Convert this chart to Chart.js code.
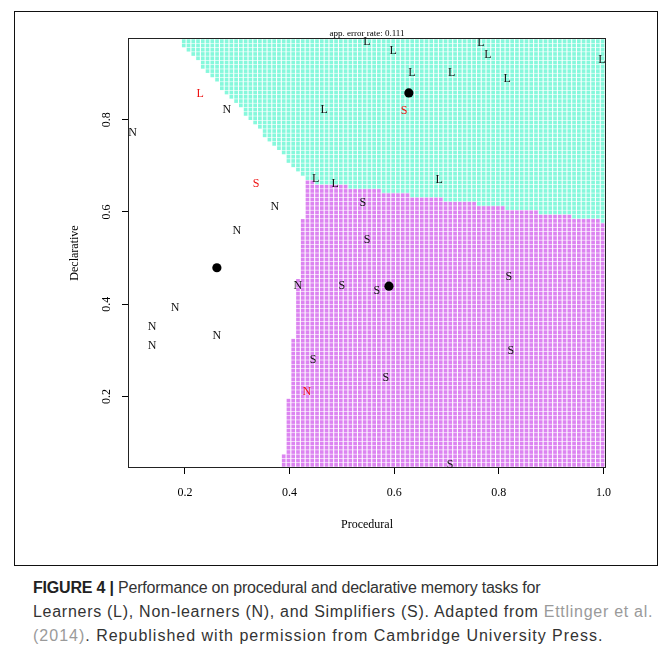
<!DOCTYPE html>
<html><head><meta charset="utf-8">
<script src="https://cdn.jsdelivr.net/npm/chart.js@4.4.1/dist/chart.umd.min.js"></script>
<style>
html,body{margin:0;padding:0;background:#fff;width:671px;height:647px;overflow:hidden;}
#wrap{position:absolute;left:0;top:0;width:671px;height:575px;}
#cap{position:absolute;left:33px;top:576px;font-family:"Liberation Sans",Arial,sans-serif;font-size:16px;line-height:24px;color:#333;white-space:nowrap;}
#cap b{color:#222;}
#cap .ref{color:#9a9a9a;}
#cap .l1{letter-spacing:-0.2px;}
#cap .l2{letter-spacing:0.72px;}
#cap .l3{letter-spacing:1.0px;}
</style></head><body>
<div id="wrap"><canvas id="c"></canvas></div>
<div id="cap"><span class="l1"><b>FIGURE 4 |</b> Performance on procedural and declarative memory tasks for</span><br><span class="l2">Learners (L), Non-learners (N), and Simplifiers (S). Adapted from <span class="ref">Ettlinger et al.</span></span><br><span class="l3"><span class="ref">(2014)</span>. Republished with permission from Cambridge University Press.</span></div>
<script>
// ---- data ----
const xTicks = [0.2, 0.4, 0.6, 0.8, 1.0];
const yTicks = [0.2, 0.4, 0.6, 0.8];
const xRange = [0.093, 1.003];
const yRange = [0.047, 0.975];

const learnersX = [0.548,0.598,0.634,0.710,0.766,0.779,0.816,0.997,0.466,0.450,0.487,0.686,0.229];
const learnersY = [0.968,0.949,0.901,0.901,0.966,0.940,0.888,0.929,0.821,0.671,0.661,0.669,0.856];
const learnersErr = [0,0,0,0,0,0,0,0,0,0,0,0,1];

const nonLearnersX = [0.100,0.280,0.372,0.299,0.416,0.181,0.137,0.137,0.261,0.433];
const nonLearnersY = [0.771,0.821,0.611,0.559,0.439,0.392,0.351,0.309,0.331,0.210];
const nonLearnersErr = [0,0,0,0,0,0,0,0,0,1];

const simplifiersX = [0.540,0.548,0.500,0.567,0.445,0.584,0.819,0.823,0.707,0.336,0.619];
const simplifiersY = [0.619,0.539,0.439,0.428,0.279,0.240,0.459,0.299,0.051,0.661,0.819];
const simplifiersErr = [0,0,0,0,0,0,0,0,0,1,1];

const meansX = [0.628, 0.261, 0.590];
const meansY = [0.858, 0.479, 0.439];

// decision boundaries (end points) between the classes
const boundaryNL = [[0.185, 0.975], [0.431, 0.667]];
const boundaryNS = [[0.431, 0.667], [0.387, 0.047]];
const boundaryLS = [[0.431, 0.667], [1.000, 0.580]];
const gridCells = 100;

const colorL = '#86f8dc';
const colorS = '#dc84f1';

// ---- build ----
const pts = (xs, ys) => xs.map((x, i) => ({x: x, y: ys[i]}));
function side(px, py, b) {
  const [a, c] = b;
  return (c[0]-a[0])*(py-a[1]) - (c[1]-a[1])*(px-a[0]);
}
function classify(x, y) {
  const sNL = side(x, y, boundaryNL);
  const sNS = side(x, y, boundaryNS);
  const sLS = side(x, y, boundaryLS);
  if (sNL > 0 && sLS > 0) return 'L';
  if (sNS > 0 && sLS <= 0) return 'S';
  return 'N';
}
const cellsL = [], cellsS = [];
const dx = (xRange[1]-xRange[0]) / gridCells, dy = (yRange[1]-yRange[0]) / gridCells;
for (let i = 0; i < gridCells; i++) {
  for (let j = 0; j < gridCells; j++) {
    const cx = xRange[0] + (i + 0.5) * dx, cy = yRange[0] + (j + 0.5) * dy;
    const k = classify(cx, cy);
    if (k === 'L') cellsL.push({x: cx, y: cy});
    else if (k === 'S') cellsS.push({x: cx, y: cy});
  }
}

const framePlugin = {
  id: 'frame',
  afterDatasetsDraw(chart) {
    const {ctx, chartArea: a} = chart;
    ctx.save();
    ctx.strokeStyle = '#222';
    ctx.lineWidth = 1;
    ctx.strokeRect(Math.round(a.left) - 0.5, Math.round(a.top) - 0.5, Math.round(a.right - a.left) + 1, Math.round(a.bottom - a.top) + 1);
    ctx.strokeStyle = '#111';
    ctx.strokeRect(14.5, 11.5, 643, 554);
    ctx.restore();
  }
};
const letterPlugin = {
  id: 'letters',
  afterDatasetsDraw(chart) {
    const ctx = chart.ctx;
    ctx.save();
    ctx.font = '12px "Liberation Serif", serif';
    ctx.textAlign = 'center';
    ctx.textBaseline = 'middle';
    chart.data.datasets.forEach((ds, i) => {
      if (!ds.letter) return;
      chart.getDatasetMeta(i).data.forEach((el, k) => {
        ctx.fillStyle = ds.err[k] ? '#ee1111' : '#111';
        ctx.fillText(ds.letter, el.x, el.y);
      });
    });
    ctx.restore();
  }
};

const serif = 'Liberation Serif';
new Chart(document.getElementById('c'), {
  type: 'scatter',
  data: {
    datasets: [
      {label: 'Learners', data: pts(learnersX, learnersY), letter: 'L', err: learnersErr, pointRadius: 0, order: 0},
      {label: 'Non-learners', data: pts(nonLearnersX, nonLearnersY), letter: 'N', err: nonLearnersErr, pointRadius: 0, order: 0},
      {label: 'Simplifiers', data: pts(simplifiersX, simplifiersY), letter: 'S', err: simplifiersErr, pointRadius: 0, order: 0},
      {label: 'Class means', data: pts(meansX, meansY), pointRadius: 4.6, backgroundColor: '#000', borderColor: '#000', borderWidth: 0, order: 1},
      {label: 'L region', data: cellsL, pointStyle: 'rect', pointRadius: 2.6, backgroundColor: colorL, borderWidth: 0, order: 5},
      {label: 'S region', data: cellsS, pointStyle: 'rect', pointRadius: 2.6, backgroundColor: colorS, borderWidth: 0, order: 5}
    ]
  },
  options: {
    animation: false,
    responsive: true,
    maintainAspectRatio: false,
    events: [],
    layout: {padding: {left: 0, right: 66, top: 0, bottom: 39}},
    plugins: {
      legend: {display: false},
      tooltip: {enabled: false},
      title: {display: true, text: 'app. error rate: 0.111', fullSize: false, color: '#000',
        font: {family: serif, size: 9, weight: 'normal', lineHeight: 1.2}, padding: {top: 28, bottom: 0.2}}
    },
    scales: {
      x: {
        type: 'linear', min: xRange[0], max: xRange[1],
        afterBuildTicks: s => { s.ticks = xTicks.map(v => ({value: v})); },
        afterFit: s => { s.height = 69; },
        ticks: {callback: v => v.toFixed(1), color: '#000', font: {family: serif, size: 12}, padding: 12, maxRotation: 0, autoSkip: false},
        grid: {drawOnChartArea: false, drawTicks: true, tickLength: 7, color: '#000', lineWidth: 1},
        border: {display: false},
        title: {display: true, text: 'Procedural', color: '#000', font: {family: serif, size: 12}, padding: {top: 0, bottom: 4}}
      },
      y: {
        type: 'linear', min: yRange[0], max: yRange[1],
        afterBuildTicks: s => { s.ticks = yTicks.map(v => ({value: v})); },
        afterFit: s => { s.width = 129; },
        ticks: {callback: v => v.toFixed(1), color: '#000', font: {family: serif, size: 12}, padding: 8, minRotation: 90, maxRotation: 90, crossAlign: 'center', autoSkip: false},
        grid: {drawOnChartArea: false, drawTicks: true, tickLength: 7, color: '#000', lineWidth: 1},
        border: {display: false},
        title: {display: true, text: 'Declarative', color: '#000', font: {family: serif, size: 12}, padding: {top: 68, bottom: 0}}
      }
    }
  },
  plugins: [framePlugin, letterPlugin]
});
</script>
</body></html>
